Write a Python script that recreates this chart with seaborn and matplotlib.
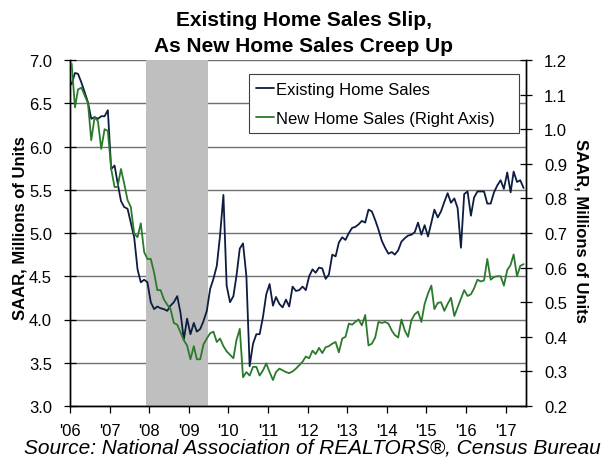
import numpy as np
import pandas as pd
import matplotlib
matplotlib.use("Agg")
import matplotlib.pyplot as plt
import matplotlib.dates as mdates
from matplotlib.ticker import FormatStrFormatter
import seaborn as sns

# monthly SAAR, millions of units, Jan 2006 - Jun 2017
existing_sales = [
    6.72, 6.85, 6.84, 6.74, 6.63, 6.51, 6.32, 6.34, 6.32, 6.35, 6.35, 6.42,  # 2006
    5.74, 5.78, 5.58, 5.37, 5.30, 5.28, 5.12, 4.95, 4.58, 4.43, 4.46, 4.43,  # 2007
    4.20, 4.12, 4.15, 4.13, 4.12, 4.10, 4.16, 4.20, 4.27, 4.08, 3.77, 4.01,  # 2008
    3.83, 3.96, 3.86, 3.89, 3.98, 4.10, 4.35, 4.47, 4.62, 4.97, 5.44, 4.39,  # 2009
    4.20, 4.27, 4.50, 4.82, 4.88, 4.50, 3.46, 3.72, 3.83, 3.83, 4.03, 4.29,  # 2010
    4.41, 4.16, 4.26, 4.18, 4.14, 4.23, 4.15, 4.38, 4.33, 4.34, 4.38, 4.34,  # 2011
    4.50, 4.58, 4.54, 4.60, 4.59, 4.47, 4.52, 4.75, 4.73, 4.89, 4.95, 4.92,  # 2012
    5.00, 5.06, 5.07, 5.10, 5.14, 5.12, 5.27, 5.25, 5.15, 5.04, 4.91, 4.83,  # 2013
    4.76, 4.78, 4.75, 4.80, 4.90, 4.94, 4.97, 4.98, 5.01, 5.12, 4.98, 5.09,  # 2014
    4.96, 5.12, 5.27, 5.18, 5.25, 5.36, 5.46, 5.35, 5.40, 5.29, 4.83, 5.45,  # 2015
    5.48, 5.20, 5.41, 5.48, 5.48, 5.48, 5.34, 5.34, 5.47, 5.55, 5.61, 5.51,  # 2016
    5.70, 5.47, 5.71, 5.59, 5.61, 5.52,                                      # 2017
]

new_sales = [
    1.190, 1.063, 1.115, 1.120, 1.098, 1.075, 0.968, 1.035, 1.023, 0.943, 1.000, 0.995,
    0.885, 0.833, 0.833, 0.885, 0.843, 0.795, 0.775, 0.698, 0.688, 0.728, 0.645, 0.625,
    0.625, 0.585, 0.535, 0.535, 0.508, 0.493, 0.480, 0.440, 0.435, 0.413, 0.390, 0.375,
    0.335, 0.373, 0.335, 0.335, 0.378, 0.395, 0.410, 0.415, 0.385, 0.395, 0.373, 0.358,
    0.348, 0.338, 0.390, 0.423, 0.283, 0.298, 0.288, 0.313, 0.313, 0.288, 0.303, 0.323,
    0.298, 0.275, 0.298, 0.308, 0.303, 0.298, 0.295, 0.300, 0.308, 0.318, 0.328, 0.343,
    0.338, 0.360, 0.350, 0.368, 0.353, 0.370, 0.373, 0.380, 0.385, 0.355, 0.395, 0.400,
    0.438, 0.435, 0.443, 0.450, 0.433, 0.463, 0.375, 0.380, 0.398, 0.443, 0.440, 0.443,
    0.438, 0.418, 0.405, 0.398, 0.450, 0.418, 0.400, 0.448, 0.465, 0.473, 0.443, 0.495,
    0.525, 0.548, 0.480, 0.498, 0.500, 0.475, 0.495, 0.513, 0.460, 0.485, 0.510, 0.535,
    0.518, 0.523, 0.540, 0.565, 0.560, 0.563, 0.625, 0.565, 0.573, 0.575, 0.575, 0.548,
    0.593, 0.608, 0.638, 0.575, 0.605, 0.610,
]

series_labels = ["Existing Home Sales", "New Home Sales (Right Axis)"]
recession = ("2007-12-01", "2009-07-01")
title_lines = ["Existing Home Sales Slip,", "As New Home Sales Creep Up"]
axis_label = "SAAR, Millions of Units"
source_note = "Source: National Association of REALTORS\u00ae, Census Bureau"

navy = "#0d1c40"
green = "#2b7a2b"

sns.set_style("white")
plt.rcParams['font.family'] = ['Liberation Sans', 'DejaVu Sans']
plt.rcParams['text.color'] = 'black'
plt.rcParams['xtick.color'] = 'black'
plt.rcParams['ytick.color'] = 'black'

months = pd.date_range("2006-01-01", periods=len(existing_sales), freq="MS") + pd.Timedelta(days=15)
df = pd.DataFrame({"month": months, "existing": existing_sales, "new": new_sales})

W, H = 613, 460
fig = plt.figure(figsize=(W / 100, H / 100), dpi=100)
ax = fig.add_axes([70 / W, 1 - 407 / H, 456 / W, 346 / H])
ax2 = ax.twinx()

ax.axvspan(pd.Timestamp(recession[0]), pd.Timestamp(recession[1]), color="#bfbfbf", lw=0, zorder=1)
ax.yaxis.grid(True, color="#707070", lw=1.0)

sns.lineplot(data=df, x="month", y="existing", ax=ax, color=navy, lw=1.3, legend=False, zorder=3)
sns.lineplot(data=df, x="month", y="new", ax=ax2, color=green, lw=1.3, legend=False, zorder=3)

ax.set_xlim(pd.Timestamp("2006-01-01"), pd.Timestamp("2017-07-08"))
ax.xaxis.set_major_locator(mdates.YearLocator())
ax.xaxis.set_major_formatter(mdates.DateFormatter("'%y"))

ax.set_ylim(3, 7)
ax.set_yticks(np.arange(3, 7.01, 0.5))
ax.yaxis.set_major_formatter(FormatStrFormatter('%.1f'))
ax2.set_ylim(0.2, 1.2)
ax2.set_yticks(np.arange(0.2, 1.201, 0.1))
ax2.yaxis.set_major_formatter(FormatStrFormatter('%.1f'))

ax.set_xlabel("")
ax.set_ylabel("")
ax2.set_ylabel("")

ax.tick_params(axis='x', bottom=True, direction='out', length=5, width=0.9, labelsize=12, pad=7)
ax.tick_params(axis='y', left=True, direction='inout', length=8, width=0.9, labelsize=12, pad=9)
ax2.tick_params(axis='y', right=True, direction='inout', length=8, width=0.9, labelsize=12, pad=9)

for a in (ax, ax2):
    a.spines['top'].set_visible(False)
    for s in ('left', 'right', 'bottom'):
        a.spines[s].set_color('black')
        a.spines[s].set_linewidth(1.0)

# legend box spans roughly x 249-519 px, y 75-133 px
leg = ax2.legend([ax.lines[0], ax2.lines[0]], series_labels, loc="upper left",
                 bbox_to_anchor=(0.3925, 0.792, 0.5925, 0.1675), mode="expand",
                 fancybox=False, edgecolor="#404040",
                 framealpha=1, fontsize=12, handlelength=1.05, handletextpad=0.15,
                 borderpad=0.45, labelspacing=0.85, borderaxespad=0)
leg.get_frame().set_linewidth(0.8)

fig.text(304 / W, 1 - 20 / H, title_lines[0], ha='center', va='center', fontsize=15, fontweight='bold')
fig.text(304 / W, 1 - 46 / H, title_lines[1], ha='center', va='center', fontsize=15, fontweight='bold')

fig.text(20 / W, 1 - 228 / H, axis_label, rotation=90, ha='center', va='center', fontsize=12, fontweight='bold')
fig.text(581.5 / W, 1 - 230.5 / H, axis_label, rotation=270, ha='center', va='center', fontsize=12, fontweight='bold')

fig.text(24 / W, 1 - 448 / H, source_note, ha='left', va='center', fontsize=15, fontstyle='italic')

fig.savefig("out.png", dpi=100)
